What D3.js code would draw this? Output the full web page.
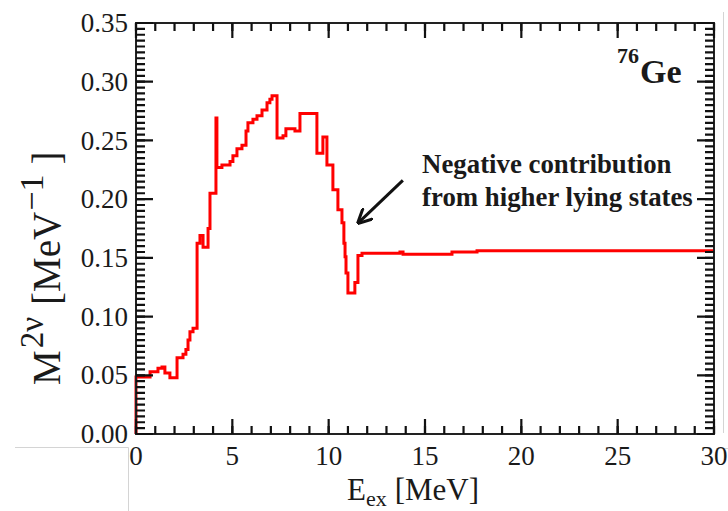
<!DOCTYPE html>
<html>
<head>
<meta charset="utf-8">
<script src="https://cdn.jsdelivr.net/npm/d3@7"></script>
<style>
  html, body { margin: 0; padding: 0; background: #fff; }
  svg { display: block; }
  text { font-family: "Liberation Serif", "Times New Roman", serif; fill: #1a1a1a; }
</style>
</head>
<body>
<svg id="chart" width="728" height="511"></svg>
<script>
// cumulative 2nu matrix element vs excitation energy (step curve)
const stepE = [0, 0, 0.73, 1.14, 1.35, 1.50, 1.76, 2.13, 2.44, 2.59, 2.70, 2.80, 2.96,
  3.17, 3.32, 3.48, 3.74, 3.84, 4.15, 4.20, 4.46, 4.88, 5.03, 5.24, 5.50, 5.71, 5.81,
  6.07, 6.28, 6.54, 6.80, 6.95, 7.06, 7.32, 7.63, 7.78, 8.25, 8.51, 9.39, 9.70, 9.91,
  10.22, 10.48, 10.69, 10.79, 10.85, 10.90, 11.00, 11.36, 11.52, 11.73, 13.70, 13.86,
  16.40, 17.70, 30];
const stepM = [0, 0.0485, 0.053, 0.056, 0.057, 0.052, 0.048, 0.065, 0.068, 0.072, 0.080,
  0.087, 0.090, 0.1625, 0.169, 0.159, 0.175, 0.205, 0.269, 0.227, 0.229, 0.232, 0.237,
  0.243, 0.246, 0.258, 0.265, 0.268, 0.271, 0.276, 0.282, 0.285, 0.288, 0.252, 0.254,
  0.260, 0.258, 0.273, 0.239, 0.253, 0.229, 0.208, 0.191, 0.180, 0.1625, 0.151, 0.137,
  0.120, 0.129, 0.152, 0.154, 0.155, 0.153, 0.155, 0.156, 0.156];

const xMajor = [0, 5, 10, 15, 20, 25, 30];
const yMajor = [0, 0.05, 0.10, 0.15, 0.20, 0.25, 0.30, 0.35];
const xMinor = d3.range(0, 31, 1);
const yMinor = d3.range(0, 71, 1).map(i => i * 0.005);

const note = ['Negative contribution', 'from higher lying states'];

const svg = d3.select('#chart');
const L = 136, R = 714, T = 23, B = 434;
const x = d3.scaleLinear().domain([0, 30]).range([L, R]);
const y = d3.scaleLinear().domain([0, 0.35]).range([B, T]);

// faint page-edge lines from the scanned figure
const edge = svg.append('g').attr('stroke', '#d4d4d4').attr('stroke-width', 1).attr('fill', 'none');
edge.append('path').attr('d', 'M15,447.5H128.5V511');
edge.append('path').attr('d', 'M723.5,12V433');
edge.append('path').attr('d', 'M716,448.5H728');

// the curve
const pts = stepE.map((e, i) => [e, stepM[i]]);
svg.append('path')
  .datum(pts)
  .attr('fill', 'none')
  .attr('stroke', '#ff0000')
  .attr('stroke-width', 3)
  .attr('stroke-linejoin', 'miter')
  .attr('d', d3.line().x(d => x(d[0])).y(d => y(d[1])).curve(d3.curveStepAfter));

svg.append('rect')
  .attr('x', L).attr('y', T).attr('width', R - L).attr('height', B - T)
  .attr('fill', 'none').attr('stroke', '#222').attr('stroke-width', 2);

// inward ticks on all four sides
function xTickPath(vals, len) {
  const p = d3.path();
  vals.forEach(v => {
    const px = x(v);
    p.moveTo(px, B); p.lineTo(px, B - len);
    p.moveTo(px, T); p.lineTo(px, T + len);
  });
  return p.toString();
}
function yTickPath(vals, len) {
  const p = d3.path();
  vals.forEach(v => {
    const py = y(v);
    p.moveTo(L, py); p.lineTo(L + len, py);
    p.moveTo(R, py); p.lineTo(R - len, py);
  });
  return p.toString();
}
const tickSets = [xTickPath(xMinor, 8), xTickPath(xMajor, 15), yTickPath(yMinor, 9), yTickPath(yMajor, 17)];
svg.append('g').selectAll('path').data(tickSets).join('path')
  .attr('d', d => d)
  .attr('fill', 'none').attr('stroke', '#111').attr('stroke-width', 2.2);

// tick labels
svg.append('g').selectAll('text').data(xMajor).join('text')
  .attr('x', d => x(d)).attr('y', 465)
  .attr('text-anchor', 'middle').attr('font-size', 27)
  .text(d => d);
svg.append('g').selectAll('text').data(yMajor).join('text')
  .attr('x', 128).attr('y', d => y(d)).attr('dy', '0.34em')
  .attr('text-anchor', 'end').attr('font-size', 27)
  .text(d => d.toFixed(2));

// axis titles
const xt = svg.append('text').attr('x', 347).attr('y', 500).attr('font-size', 31);
xt.append('tspan').text('E');
xt.append('tspan').attr('font-size', 22).attr('dy', 6).text('ex');
xt.append('tspan').attr('dy', -6).attr('dx', 8).text('[MeV]');

const yt = svg.append('text')
  .attr('transform', 'translate(60,385) rotate(-90)')
  .attr('font-size', 39);
yt.append('tspan').text('M');
yt.append('tspan').attr('font-size', 33).attr('dy', -17).attr('dx', 2).text('2ν');
yt.append('tspan').attr('dy', 17).attr('dx', 12).text('[MeV');
yt.append('tspan').attr('font-size', 34).attr('dy', -17).attr('dx', 1).text('−1');
yt.append('tspan').attr('dy', 17).attr('dx', 10).text(']');

// isotope label
const iso = svg.append('text').attr('x', 617).attr('y', 83).attr('font-weight', 'bold');
iso.append('tspan').attr('font-size', 22).attr('dy', -20).text('76');
iso.append('tspan').attr('font-size', 34).attr('dy', 20).attr('dx', 1).text('Ge');

// annotation with arrow
svg.append('defs').append('marker')
  .attr('id', 'head').attr('viewBox', '0 0 10 10').attr('refX', 9).attr('refY', 5)
  .attr('markerWidth', 5).attr('markerHeight', 5).attr('orient', 'auto')
  .append('path').attr('d', 'M0,0L10,5L0,10').attr('fill', 'none').attr('stroke', '#111').attr('stroke-width', 2);
svg.append('line')
  .attr('x1', x(13.85)).attr('y1', y(0.216))
  .attr('x2', x(11.55)).attr('y2', y(0.180))
  .attr('stroke', '#111').attr('stroke-width', 3)
  .attr('marker-end', 'url(#head)');
svg.append('g').selectAll('text').data(note).join('text')
  .attr('x', x(14.85)).attr('y', (d, i) => 173 + i * 33)
  .attr('font-size', 26.8).attr('font-weight', 'bold')
  .text(d => d);
</script>
</body>
</html>
